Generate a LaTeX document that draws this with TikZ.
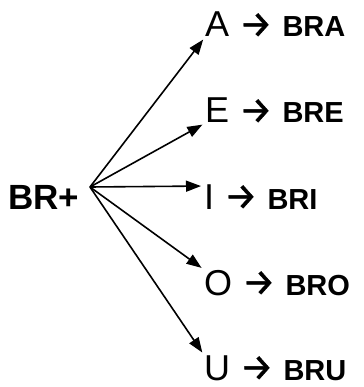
\documentclass[tikz,border=0pt]{standalone}
\usepackage{fontspec}
\setmainfont{Liberation Sans}
\newfontfamily\arrowfont[FakeBold=1.2]{Fira Sans}
\usetikzlibrary{arrows.meta}
\newcommand{\bigtxt}{\fontsize{36}{40}\selectfont}
\newcommand{\smtxt}{\fontsize{29}{30}\selectfont\bfseries}
\newcommand{\yields}{{\arrowfont\fontsize{37}{40}\selectfont →}}
\tikzset{
    vowel/.style={anchor=base west, inner sep=0pt, font=\bigtxt},
    branch/.style={-{Triangle[length=15pt,width=11pt]}, line width=1.6pt, shorten >=3pt}
}

\begin{document}
\begin{tikzpicture}[x=1pt,y=-1pt]
        \useasboundingbox (0,0) rectangle (363,387);
        \node[anchor=base west, inner sep=0pt, font=\fontsize{35}{38}\selectfont\bfseries] (br) at (8,209) {BR+};
        \coordinate (o) at (90,187);
        \node[vowel] (a) at (205,37) {A \yields\ {\smtxt BRA}};
        \node[vowel] (e) at (205,123) {E \yields\ {\smtxt BRE}};
        \node[vowel] (i) at (204,209) {I \yields\ {\smtxt BRI}};
        \node[vowel] (o2) at (204,295) {O \yields\ {\smtxt BRO}};
        \node[vowel] (u) at (204,380) {U \yields\ {\smtxt BRU}};
        \draw[branch] (o) -- (a.south west);
        \draw[branch] (o) -- (e.south west);
        \draw[branch] (o) -- ([yshift=-2pt]i.north west);
        \draw[branch] (o) -- (o2.north west);
        \draw[branch] (o) -- (u.north west);
    \end{tikzpicture}
\end{document}
